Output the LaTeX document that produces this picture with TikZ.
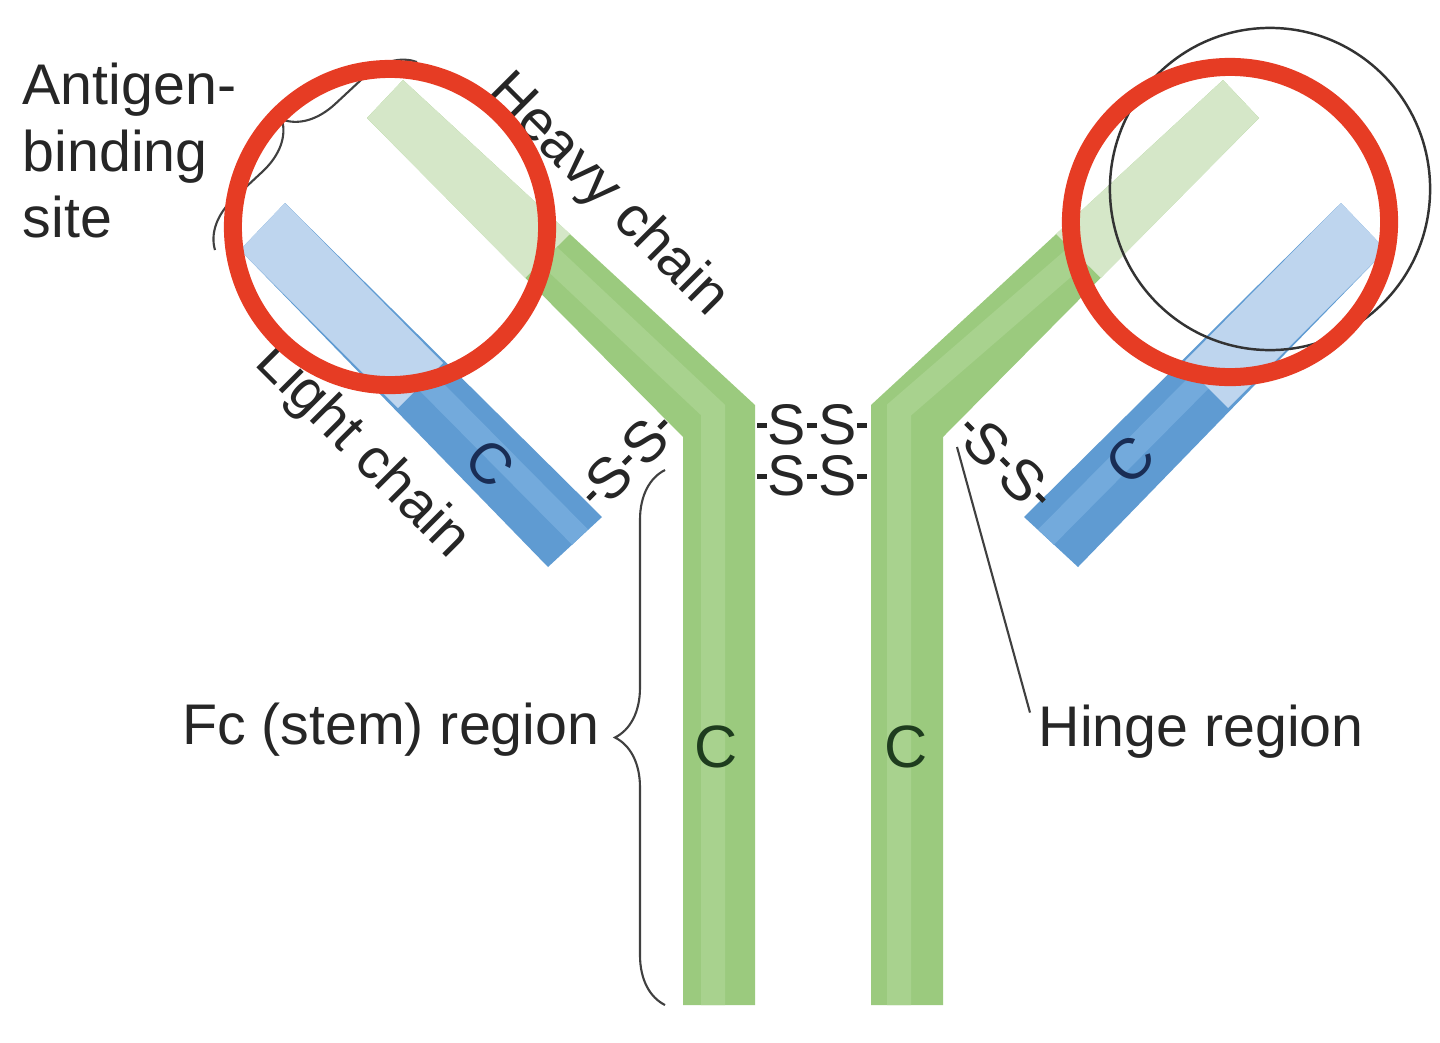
\documentclass[tikz,border=0pt]{standalone}
\usepackage{fontspec}
\setmainfont{Liberation Sans}
\usepackage{tikz}
\usetikzlibrary{decorations.pathreplacing}
\definecolor{heavyGreen}{RGB}{155,202,126}
\definecolor{heavyStripe}{RGB}{168,210,142}
\definecolor{paleGreen}{RGB}{213,231,200}
\definecolor{lightBlue}{RGB}{95,155,210}
\definecolor{lightStripe}{RGB}{115,170,220}
\definecolor{paleBlue}{RGB}{190,213,238}
\definecolor{ringRed}{RGB}{230,60,36}
\definecolor{darkNavy}{RGB}{25,45,85}
\definecolor{darkGreen}{RGB}{30,60,30}
\newcommand{\bonddash}{\kern.02em\rule[.3em]{.17em}{.085em}\kern.02em}
\newcommand{\disulfide}{\mbox{\bonddash S\bonddash S\bonddash}}

\begin{document}
\begin{tikzpicture}[x=0.01cm, y=0.01cm,
  lbl/.style={font=\fontsize{16.3}{19}\selectfont, text=black!85, inner sep=0pt},
  ring/.style={draw=ringRed, line width=0.18cm},
  curly/.style={draw=black!75, line width=0.6pt, decorate, decoration={brace, amplitude=0.5cm}}]
 \useasboundingbox (0,-1042) rectangle (1440,0);
 % heavy chains
 \fill[heavyGreen] (683,-1005) -- (755,-1005) -- (755,-405) -- (403,-80) -- (367,-118) -- (683,-437) -- cycle;
 \fill[heavyGreen] (943,-1005) -- (871,-1005) -- (871,-405) -- (1223,-80) -- (1259,-118) -- (943,-437) -- cycle;
 \draw[heavyStripe, line width=0.24cm] (713,-1005) -- (713,-410) -- (548,-255);
 \draw[heavyStripe, line width=0.24cm] (899,-1005) -- (899,-410) -- (1078,-255);
 \fill[paleGreen] (403,-80) -- (367,-118) -- (525,-278) -- (570,-234) -- cycle;
 \fill[paleGreen] (1223,-80) -- (1259,-118) -- (1101,-278) -- (1056,-234) -- cycle;
 % light chains
 \fill[lightBlue] (285,-203) -- (602,-517) -- (548,-567) -- (240,-250) -- cycle;
 \fill[lightBlue] (1341,-203) -- (1024,-517) -- (1078,-567) -- (1386,-250) -- cycle;
 \draw[lightStripe, line width=0.22cm] (268,-222) -- (580,-537);
 \draw[lightStripe, line width=0.22cm] (1358,-222) -- (1046,-537);
 \fill[paleBlue] (285,-203) -- (443,-363) -- (398,-408) -- (240,-250) -- cycle;
 \fill[paleBlue] (1341,-203) -- (1183,-363) -- (1228,-408) -- (1386,-250) -- cycle;
 % labels
 \node[lbl, anchor=north west, align=left] (antigen) at (22,-62) {Antigen-\\binding\\site};
 \node[lbl, rotate=-45] (heavylbl) at (607,-196) {Heavy chain};
 \node[lbl, rotate=-45] (lightlbl) at (362,-452) {Light chain};
 \node[lbl, rotate=-45, text=darkNavy] (cleft) at (490,-463) {C};
 \node[lbl, rotate=45, text=darkNavy] (cright) at (1130,-460) {C};
 \node[lbl, text=darkGreen, font=\fontsize{17}{20}\selectfont] (stemleft) at (716,-747) {C};
 \node[lbl, text=darkGreen, font=\fontsize{17}{20}\selectfont] (stemright) at (906,-747) {C};
 \node[lbl] (ssup) at (812,-425) {\disulfide};
 \node[lbl] (sslow) at (812,-476) {\disulfide};
 \node[lbl, rotate=45] (ssleft) at (627,-460) {\disulfide};
 \node[lbl, rotate=-45] (ssright) at (1005,-462) {\disulfide};
 \node[lbl, anchor=east] (fc) at (600,-730) {Fc (stem) region};
 \node[lbl, anchor=west] (hinge) at (1038,-732) {Hinge region};
 % braces and pointer
 \coordinate (fcbot) at (665,-1005);
 \coordinate (fctop) at (665,-470);
 \coordinate (sitelow) at (215,-250);
 \coordinate (sitehigh) at (417,-62);
 \coordinate (hingetip) at (957,-447);
 \draw[curly] (fcbot) -- (fctop);
 \draw[curly] (sitelow) -- (sitehigh);
 \draw[black!75, line width=0.6pt] ([shift={(-8,-8)}]hinge.north west) -- (hingetip);
 % rings
 \draw[black!80, line width=0.7pt] (1270,-189) ellipse [x radius=1.60cm, y radius=1.61cm];
 \draw[ring] (390,-227) ellipse [x radius=1.57cm, y radius=1.58cm];
 \draw[ring] (1230,-222) ellipse [x radius=1.59cm, y radius=1.55cm];
\end{tikzpicture}
\end{document}
